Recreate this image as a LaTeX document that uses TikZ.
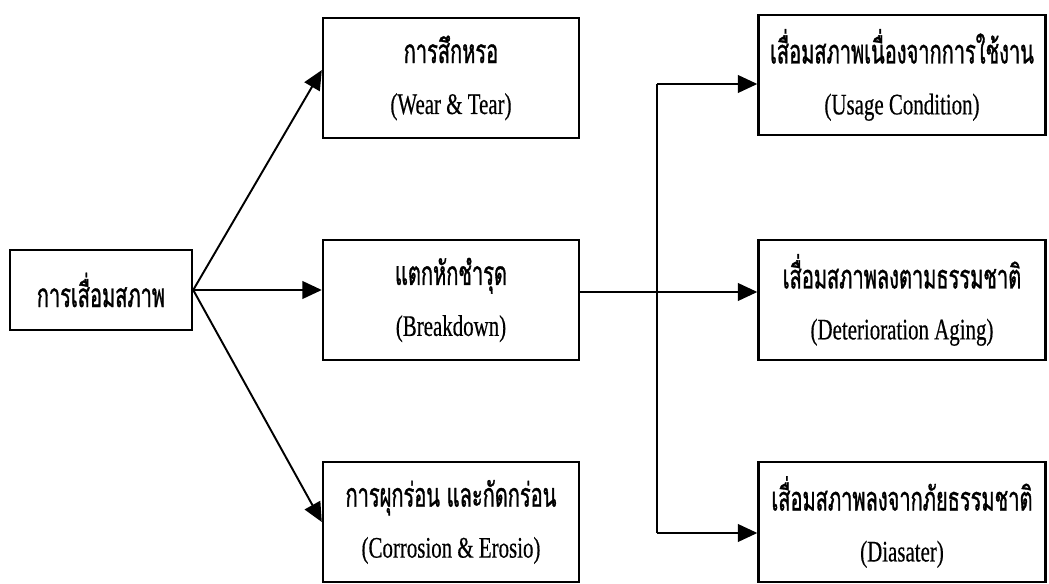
\documentclass[tikz,border=0pt]{standalone}
\usepackage{fontspec}
\setmainfont[FakeStretch=0.7,FakeBold=0.4]{Liberation Serif}
\newfontfamily\thaifont[Script=Thai,FakeStretch=0.6,FakeBold=1]{Loma}
\newcommand\thai[1]{{\thaifont\fontsize{19}{20}\selectfont #1}}
\usetikzlibrary{arrows.meta}

\begin{document}
\begin{tikzpicture}[x=0.02cm,y=-0.02cm,
        box/.style={draw,line width=1.4pt,align=center,inner sep=0pt,
                    font=\fontsize{17}{20}\selectfont},
        smallbox/.style={box,minimum width=3.64cm,minimum height=1.6cm},
        midbox/.style={box,minimum width=5.12cm,minimum height=2.4cm},
        rightbox/.style={box,minimum width=5.74cm,minimum height=2.4cm},
        line/.style={line width=1.1pt},
        link/.style={line,-{Triangle[length=11pt,width=10pt]}}]
    \useasboundingbox (0,0) rectangle (1049,584);

    \node[smallbox] (decay) at (101,290) {\thai{การเสื่อมสภาพ}};

    \node[midbox] (wear) at (451,78) {\thai{การสึกหรอ}\\[9pt](Wear \& Tear)};
    \node[midbox] (brk) at (451,300) {\thai{แตกหักชำรุด}\\[9pt](Breakdown)};
    \node[midbox] (cor) at (451,522) {\thai{การผุกร่อน และกัดกร่อน}\\[9pt](Corrosion \& Erosio)};

    \node[rightbox] (use) at (902,75) {\thai{เสื่อมสภาพเนื่องจากการใช้งาน}\\[9pt](Usage Condition)};
    \node[rightbox] (age) at (902,300) {\thai{เสื่อมสภาพลงตามธรรมชาติ}\\[9pt](Deterioration Aging)};
    \node[rightbox] (dis) at (902,522) {\thai{เสื่อมสภาพลงจากภัยธรรมชาติ}\\[9pt](Diasater)};

    \coordinate (split) at (657,292);
    \coordinate (up) at (657,84);
    \coordinate (down) at (657,533);

    % from the main box
    \draw[link] (decay.east) -- ([yshift=4.5pt]wear.west);
    \draw[link] (decay.east) -- (decay.east -| brk.west);
    \draw[link] (decay.east) -- (cor.west);

    % branch to the causes
    \draw[link] (brk.east |- split) -- (age.west |- split);
    \draw[line] (up) -- (down);
    \draw[link] (up) -- (up -| use.west);
    \draw[link] (down) -- (down -| dis.west);
\end{tikzpicture}
\end{document}
